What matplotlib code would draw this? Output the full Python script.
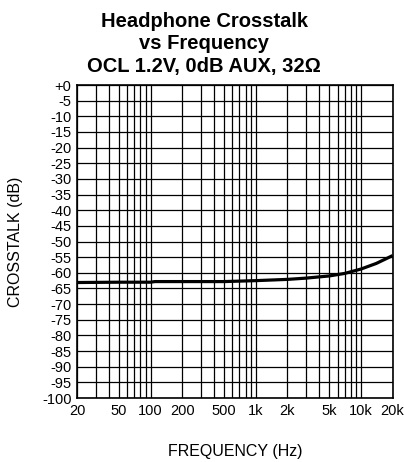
import numpy as np
import matplotlib
matplotlib.use('Agg')
import matplotlib.pyplot as plt
from matplotlib.ticker import FixedLocator, NullFormatter

plt.rcParams['font.family'] = ['Liberation Sans', 'DejaVu Sans']

# data
freq = [20, 50, 100, 110, 200, 500, 1000, 2000, 3000, 5000, 7000, 10000, 14000, 20000]
crosstalk = [-63.1, -63.0, -63.0, -62.8, -62.8, -62.8, -62.5, -62.1, -61.7, -61.0, -60.2, -58.8, -57.0, -54.5]

xticks = [20, 50, 100, 200, 500, 1000, 2000, 5000, 10000, 20000]
xticklabels = ['20', '50', '100', '200', '500', '1k', '2k', '5k', '10k', '20k']
yticks = list(range(0, -105, -5))
yticklabels = ['+0'] + [str(v) for v in yticks[1:]]

fig = plt.figure(figsize=(4.04, 4.62), dpi=100)
ax = fig.add_axes([0.1906, 0.1385, 0.7812, 0.6775])

ax.plot(freq, crosstalk, color='black', lw=2.3, solid_capstyle='butt')

ax.set_xscale('log')
ax.set_xlim(20, 20000)
ax.set_ylim(-100, 0)

minor = [m * 10**e for e in range(1, 5) for m in range(2, 10) if 20 <= m * 10**e <= 20000]
ax.xaxis.set_major_locator(FixedLocator(xticks))
ax.xaxis.set_minor_locator(FixedLocator(minor))
ax.xaxis.set_minor_formatter(NullFormatter())
ax.set_xticklabels(xticklabels)
ax.set_yticks(yticks)
ax.set_yticklabels(yticklabels)

ax.grid(True, which='both', axis='x', color='black', lw=0.9)
ax.grid(True, which='major', axis='y', color='black', lw=0.9)
ax.tick_params(which='both', length=0, labelsize=10.5, pad=4)
for s in ax.spines.values():
    s.set_linewidth(1.2)

ax.set_xlabel('FREQUENCY (Hz)', fontsize=11.5, labelpad=19)
ax.set_ylabel('CROSSTALK (dB)', fontsize=11.5, labelpad=14)

fig.text(0.505, 0.905, 'Headphone Crosstalk\nvs Frequency\nOCL 1.2V, 0dB AUX, 32Ω',
         ha='center', va='center', fontsize=14.5, fontweight='bold', linespacing=1.25)

fig.savefig('out.png', dpi=100)
